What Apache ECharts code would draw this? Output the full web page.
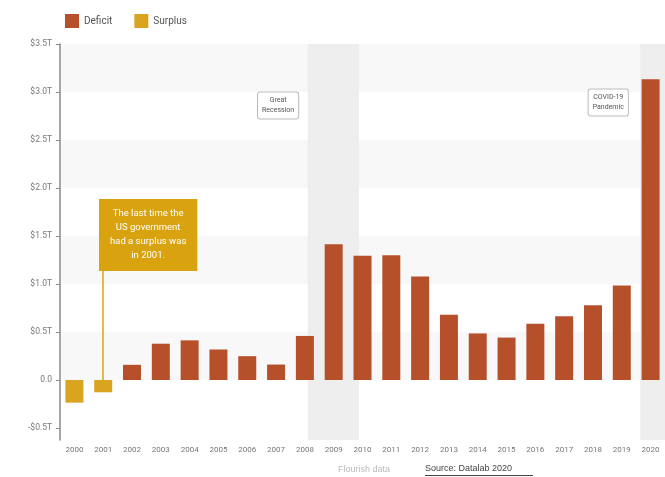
<!DOCTYPE html>
<html><head><meta charset="utf-8">
<script src="https://cdn.jsdelivr.net/npm/echarts@6/dist/echarts.min.js"></script>
<style>html,body{margin:0;padding:0;background:#fff}#c{width:665px;height:477px}</style>
</head><body><div id="c"></div>
<script>
const years = ['2000','2001','2002','2003','2004','2005','2006','2007','2008','2009','2010','2011','2012','2013','2014','2015','2016','2017','2018','2019','2020'];
const deficit = [null,null,0.158,0.378,0.413,0.318,0.248,0.161,0.459,1.413,1.294,1.300,1.077,0.680,0.485,0.442,0.585,0.665,0.779,0.984,3.132];
const surplus = [-0.236,-0.128,null,null,null,null,null,null,null,null,null,null,null,null,null,null,null,null,null,null,null];
const yTicks = [-0.5,0,0.5,1,1.5,2,2.5,3,3.5];
const stripes = [[0,0.5],[1,1.5],[2,2.5],[3,3.5]];
const bands = [{name:'Great\nRecession', from:8.1, to:9.88, labelX:7.07, labelY:2.86},
               {name:'COVID-19\nPandemic', from:19.64, to:20.6, labelX:18.53, labelY:2.89}];
const noteText = 'The last time the\nUS government\nhad a surplus was\nin 2001.';
const notePos = [2.56, 1.51];
const noteYear = '2001';
const noteLineTop = 1.15;

const fmt = v => v === 0 ? '0.0' : (v < 0 ? '-' : '') + '$' + Math.abs(v).toFixed(1) + 'T';
const chart = echarts.init(document.getElementById('c'));
chart.setOption({
  animation:false,
  textStyle:{fontFamily:'Roboto, Arial, sans-serif'},
  legend:{left:60, top:9, itemWidth:14, itemHeight:14, itemGap:22, icon:'rect',
    textStyle:{fontSize:10, color:'#555'}, data:['Deficit','Surplus']},
  grid:{left:60, right:0, top:44, bottom:37},
  xAxis:[
    {type:'category', data:years, axisLine:{show:false}, axisTick:{show:false},
     axisLabel:{fontSize:8, color:'#777', margin:6, interval:0}},
    {type:'value', min:-0.5, max:20.5, show:false}
  ],
  yAxis:{type:'value', min:-0.625, max:3.5, z:10,
    axisLine:{show:true, onZero:false, lineStyle:{color:'#888', width:1.5}},
    axisTick:{show:true, length:4, lineStyle:{color:'#888'}, customValues:yTicks},
    axisLabel:{fontSize:8.5, color:'#777', formatter:fmt, customValues:yTicks, margin:8},
    splitLine:{show:false}},
  series:[
    {type:'bar', name:'_bg', xAxisIndex:1, data:[], silent:true, z:0,
     markArea:{silent:true, itemStyle:{color:'#f8f8f8'},
       data: stripes.map(s => [{yAxis:s[0], xAxis:-0.45},{yAxis:s[1], xAxis:20.5}])}},
    {type:'bar', name:'_bands', xAxisIndex:1, data:[], silent:true, z:1,
     markArea:{silent:true, itemStyle:{color:'#eeeeee'},
       data: bands.map(b => [{xAxis:b.from, yAxis:-0.625},{xAxis:b.to, yAxis:3.5}])}},
    {type:'bar', name:'Deficit', stack:'a', data:deficit, barWidth:18, itemStyle:{color:'#b5502a'}, z:3,
     markLine:{silent:true, symbol:'none', lineStyle:{color:'#d9a520', width:1.5, type:'solid'}, label:{show:false},
       data:[[{xAxis:noteYear, yAxis:0},{xAxis:noteYear, yAxis:noteLineTop}]]}},
    {type:'bar', name:'Surplus', stack:'a', data:surplus, barWidth:18, itemStyle:{color:'#d9a520'}, z:3},
    {type:'scatter', name:'_notes', xAxisIndex:1, data:[], silent:true, z:10,
     markPoint:{silent:true, symbol:'rect', symbolSize:1, itemStyle:{color:'rgba(0,0,0,0)'},
       data:[
         {coord:notePos, label:{show:true, position:'inside', formatter:noteText, color:'#fff', fontSize:9.5, lineHeight:14,
           backgroundColor:'#d9a20f', padding:[8,11], align:'center'}},
         ...bands.map(b => ({coord:[b.labelX, b.labelY], label:{show:true, position:'inside', formatter:b.name, color:'#555', fontSize:7,
           lineHeight:10, backgroundColor:'#fff', borderColor:'#bbb', borderWidth:1, borderRadius:2, padding:[3,4], align:'center'}}))
       ]}}
  ],
  graphic:[
    {type:'text', left:338, top:465, style:{text:'Flourish data', fill:'#bbb', fontSize:9}},
    {type:'text', left:425, top:464, style:{text:'Source: Datalab 2020', fill:'#444', fontSize:9}},
    {type:'rect', left:425, top:475, shape:{width:108, height:1}, style:{fill:'#444'}}
  ]
});
</script></body></html>
